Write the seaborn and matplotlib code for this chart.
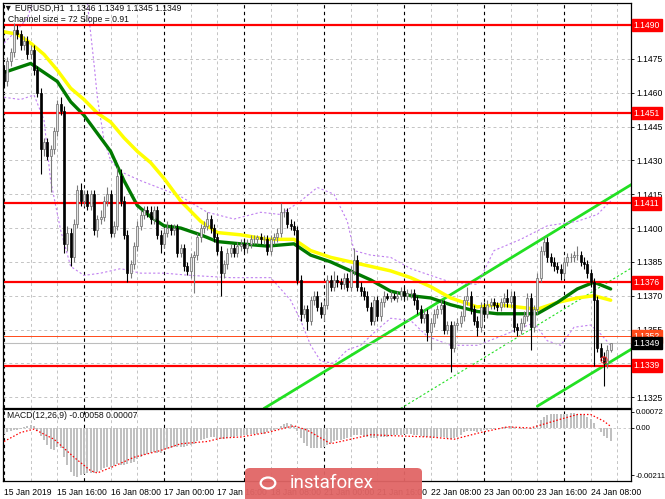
import numpy as np
import matplotlib
matplotlib.use("Agg")
import matplotlib.pyplot as plt
from matplotlib.patches import FancyBboxPatch, Circle
import seaborn as sns

sns.set_theme(style="white")
plt.rcParams["font.family"] = ["Liberation Sans", "DejaVu Sans"]

# EURUSD H1 candles, 15 Jan 00:00 -> 24 Jan 14:00 (open of each bar = previous close)
first_open = 1.1470
closes = [
    1.1465, 1.1474, 1.1478, 1.1488, 1.1486, 1.1481, 1.1483, 1.1477, 1.1479, 1.1470,
    1.1460, 1.1435, 1.1438, 1.1432, 1.1435, 1.1443, 1.1455, 1.1452, 1.1393, 1.1398,
    1.1387, 1.1402, 1.1417, 1.1412, 1.1415, 1.1410, 1.1415, 1.1399, 1.1404, 1.1405,
    1.1412, 1.1415, 1.1398, 1.1401, 1.1423, 1.1412, 1.1397, 1.1380, 1.1384, 1.1392,
    1.1401, 1.1406, 1.1408, 1.1407, 1.1404, 1.1408, 1.1397, 1.1393, 1.1398, 1.1400,
    1.1399, 1.1400, 1.1389, 1.1391, 1.1383, 1.1381, 1.1387, 1.1388, 1.1396, 1.1400,
    1.1401, 1.1404, 1.1400, 1.1396, 1.1390, 1.1380, 1.1384, 1.1389, 1.1391, 1.1389,
    1.1392, 1.1393, 1.1391, 1.1393, 1.1395, 1.1395, 1.1396, 1.1395, 1.1395, 1.1390,
    1.1395, 1.1396, 1.1398, 1.1407, 1.1407, 1.1402, 1.1401, 1.1399, 1.1377, 1.1362,
    1.1364, 1.1359, 1.1368, 1.1370, 1.1365, 1.1362, 1.1366, 1.1377, 1.1374, 1.1377,
    1.1376, 1.1375, 1.1378, 1.1374, 1.1381, 1.1386, 1.1374, 1.1372, 1.1370, 1.1365,
    1.1359, 1.1368, 1.1361, 1.1367, 1.1370, 1.1369, 1.1370, 1.1369, 1.1370, 1.1372,
    1.1370, 1.1371, 1.1371, 1.1368, 1.1364, 1.1360, 1.1362, 1.1354, 1.1358, 1.1362,
    1.1364, 1.1366, 1.1355, 1.1357, 1.1347, 1.1357, 1.1358, 1.1361, 1.1368, 1.1370,
    1.1364, 1.1359, 1.1356, 1.1365, 1.1362, 1.1366, 1.1367, 1.1366, 1.1365, 1.1367,
    1.1369, 1.1367, 1.1370, 1.1356, 1.1355, 1.1358, 1.1361, 1.1369, 1.1356, 1.1364,
    1.1378, 1.1390, 1.1394, 1.1387, 1.1385, 1.1383, 1.1382, 1.1380, 1.1385, 1.1387,
    1.1387, 1.1388, 1.1388, 1.1385, 1.1384, 1.1380, 1.1376, 1.1368, 1.1347, 1.1343,
    1.1340, 1.1346, 1.1349,
]
# wick lengths above / below the body, in pips
wick_up = [
    2, 2, 2, 3, 2, 2, 2, 2, 2, 2,  2, 2, 2, 2, 2, 2, 2, 3, 2, 3,
    2, 2, 2, 3, 2, 2, 2, 2, 2, 3,  2, 3, 2, 2, 4, 3, 2, 2, 2, 2,
    2, 2, 2, 2, 3, 2, 2, 2, 2, 3,  2, 2, 2, 2, 2, 2, 2, 2, 2, 2,
    2, 3, 2, 2, 2, 2, 2, 2, 2, 2,  2, 2, 2, 2, 2, 2, 1, 2, 2, 2,
    2, 2, 2, 4, 2, 2, 2, 2, 2, 2,  2, 2, 2, 2, 2, 2, 2, 2, 2, 4,
    2, 2, 2, 2, 2, 5, 2, 2, 2, 2,  2, 2, 2, 2, 2, 1, 2, 1, 2, 2,
    2, 2, 2, 2, 2, 2, 2, 2, 2, 2,  2, 2, 2, 2, 2, 2, 2, 2, 2, 4,
    2, 2, 2, 2, 2, 2, 2, 2, 1, 2,  2, 4, 2, 2, 2, 2, 2, 2, 2, 2,
    2, 2, 2, 2, 2, 2, 2, 2, 2, 2,  2, 2, 4, 2, 2, 2, 2, 2, 2, 2,
    2, 2, 0,
]
wick_dn = [
    2, 2, 2, 2, 2, 2, 2, 2, 2, 2,  2, 11, 3, 2, 16, 2, 2, 2, 4, 3,
    4, 2, 2, 2, 2, 2, 2, 2, 3, 2,  2, 2, 2, 2, 2, 2, 2, 4, 2, 2,
    2, 2, 2, 2, 2, 2, 2, 4, 2, 2,  2, 2, 2, 2, 2, 2, 3, 16, 2, 2,
    2, 2, 2, 2, 2, 10, 2, 2, 2, 2,  2, 2, 2, 2, 2, 2, 2, 2, 2, 2,
    2, 2, 2, 2, 2, 2, 2, 2, 2, 3,  2, 4, 2, 2, 2, 2, 3, 2, 2, 2,
    2, 2, 2, 2, 2, 2, 2, 2, 2, 2,  2, 2, 2, 2, 2, 1, 2, 1, 2, 2,
    2, 2, 2, 2, 2, 2, 2, 4, 8, 2,  2, 2, 2, 2, 11, 2, 2, 2, 2, 2,
    2, 2, 4, 2, 2, 2, 2, 2, 2, 2,  2, 2, 2, 2, 3, 2, 2, 2, 10, 2,
    2, 2, 2, 2, 2, 2, 2, 3, 2, 2,  2, 2, 2, 2, 2, 2, 2, 29, 2, 2,
    10, 2, 1,
]

# moving averages (sampled)
ma_idx = [0, 4, 8, 12, 16, 20, 24, 28, 32, 36, 40, 44, 48, 53, 59, 64, 71, 79, 87, 92,
          98, 104, 110, 116, 122, 128, 134, 142, 148, 154, 160, 166, 172, 177, 182]
ma_yellow = [1.1487, 1.1486, 1.1482, 1.1477, 1.1470, 1.1462, 1.1457, 1.1451, 1.1447, 1.1440,
             1.1434, 1.1429, 1.1422, 1.1412, 1.1403, 1.1398, 1.1397, 1.1395, 1.1395, 1.1390,
             1.1387, 1.1385, 1.1383, 1.1381, 1.1378, 1.1374, 1.1369, 1.1365, 1.1366, 1.1365,
             1.1364, 1.1367, 1.1369, 1.1370, 1.1368]
ma_green = [1.1469, 1.1471, 1.1473, 1.1469, 1.1465, 1.1456, 1.1450, 1.1442, 1.1434, 1.1421,
            1.1410, 1.1405, 1.1401, 1.1400, 1.1397, 1.1394, 1.1393, 1.1392, 1.1393, 1.1388,
            1.1385, 1.1381, 1.1377, 1.1372, 1.1370, 1.1369, 1.1366, 1.1363, 1.1362, 1.1362,
            1.1362, 1.1367, 1.1373, 1.1376, 1.1373]

# envelope bands (purple dotted)
band_up_idx = [0, 4, 7, 9, 16, 22, 25, 27, 28, 30, 32, 35, 41, 48, 53, 61, 69, 77, 83, 89,
               94, 99, 103, 105, 110, 116, 122, 128, 134, 142, 147, 155, 163, 172, 178, 182]
band_up = [1.1482, 1.1488, 1.1493, 1.1502, 1.1515, 1.1512, 1.1500, 1.1473, 1.1458, 1.1439,
           1.1430, 1.1425, 1.1421, 1.1417, 1.1414, 1.1407, 1.1404, 1.1407, 1.1406, 1.1412,
           1.1418, 1.1415, 1.1403, 1.1390, 1.1388, 1.1387, 1.1382, 1.1379, 1.1376, 1.1375,
           1.1390, 1.1395, 1.1401, 1.1403, 1.1406, 1.1412]
band_dn_idx = [0, 5, 9, 12, 14, 17, 20, 24, 29, 35, 41, 48, 56, 68, 80, 86, 89, 92, 95, 99,
               103, 107, 112, 116, 122, 127, 134, 142, 149, 159, 163, 167, 171, 176, 179, 182]
band_dn = [1.1458, 1.1457, 1.1459, 1.1448, 1.1421, 1.1399, 1.1383, 1.1379, 1.1380, 1.1382,
           1.1380, 1.1380, 1.1379, 1.1378, 1.1378, 1.1368, 1.1359, 1.1348, 1.1341, 1.1340,
           1.1346, 1.1348, 1.1355, 1.1360, 1.1359, 1.1352, 1.1348, 1.1348, 1.1352, 1.1358,
           1.1350, 1.1348, 1.1356, 1.1357, 1.1353, 1.1348]

# regression channel (start, end)
chan_upper_x, chan_upper = [78, 189], [1.1320, 1.1420]
chan_mid_x, chan_mid = [119, 189], [1.1320, 1.1383]
chan_lower_x, chan_lower = [160, 189], [1.1321, 1.1347]

# horizontal levels
red_levels = [1.1490, 1.1451, 1.1411, 1.1376, 1.1339]
ask_level, bid_level = 1.1352, 1.1349

# MACD(12,26,9) histogram in 1e-5 units, one value per bar
macd_hist = [
    -25, -20, -15, -10, -8, -5, 5, 10, 12, 8,
    -15, -35, -55, -75, -95, -100, -85, -90, -130, -165,
    -195, -215, -220, -210, -205, -200, -200, -200, -195, -185,
    -180, -175, -175, -170, -160, -165, -165, -160, -155, -150,
    -140, -130, -120, -115, -110, -105, -110, -110, -100, -95,
    -90, -85, -85, -85, -85, -80, -75, -70, -60, -55,
    -50, -45, -40, -40, -45, -50, -50, -45, -40, -40,
    -35, -35, -30, -30, -28, -25, -25, -22, -25, -20,
    -15, -10, -5, 10, 18, 20, 18, 10, -15, -45,
    -65, -80, -90, -90, -90, -88, -85, -75, -65, -58,
    -55, -52, -50, -45, -38, -30, -30, -32, -35, -38,
    -45, -45, -45, -42, -40, -38, -35, -32, -30, -30,
    -28, -28, -28, -30, -32, -35, -38, -42, -45, -42,
    -40, -40, -42, -45, -50, -45, -40, -30, -20, -15,
    -15, -15, -18, -15, -10, -8, -5, -3, 0, 2,
    5, 5, 8, 3, 0, -3, -3, 0, -5, -3,
    15, 35, 50, 58, 62, 63, 64, 63, 63, 64,
    65, 65, 64, 62, 58, 50, 40, 20, 0, -20,
    -35, -45, -58,
]
sig_idx = [0, 5, 9, 15, 21, 26, 28, 33, 39, 47, 53, 61, 65, 71, 79, 87, 91, 98, 104, 110,
           118, 128, 135, 143, 151, 158, 166, 172, 176, 180, 182]
macd_signal = [-0.00060, -0.00020, -0.00005, -0.00050, -0.00130, -0.00190, -0.00200, -0.00170,
               -0.00130, -0.00100, -0.00070, -0.00060, -0.00045, -0.00040, -0.00020, 0.00010,
               -0.00010, -0.00070, -0.00050, -0.00030, -0.00035, -0.00040, -0.00050, -0.00020,
               0.00005, 0.00000, 0.00035, 0.00060, 0.00060, 0.00030, 0.00007]

time_idx = [0, 16, 32, 48, 64, 80, 96, 112, 128, 144, 160, 176]
time_labels = ["15 Jan 2019", "15 Jan 16:00", "16 Jan 08:00", "17 Jan 00:00", "17 Jan 16:00",
               "18 Jan 08:00", "21 Jan 00:00", "21 Jan 16:00", "22 Jan 08:00", "23 Jan 00:00",
               "23 Jan 16:00", "24 Jan 08:00"]
price_ticks = [1.1325, 1.1340, 1.1355, 1.1370, 1.1385, 1.1400, 1.1415, 1.1430, 1.1445,
               1.1460, 1.1475, 1.1490]

assert len(closes) == len(wick_up) == len(wick_dn) == len(macd_hist) == 183

W, H = 665, 499
fig = plt.figure(figsize=(W / 100, H / 100), dpi=100)
ax = fig.add_axes([3 / W, 1 - 408 / H, 628 / W, 405 / H])
axm = fig.add_axes([3 / W, 1 - 481 / H, 628 / W, 72 / H])

idx = np.arange(len(closes))
c = np.array(closes)
o = np.r_[first_open, c[:-1]]
hi = np.maximum(o, c) + np.array(wick_up) * 1e-4
lo = np.minimum(o, c) - np.array(wick_dn) * 1e-4
bull = c >= o
body = c - o

xlim = (-0.3, 188.1)
for a in (ax, axm):
    a.set_xlim(*xlim)
    for k in range(0, 189, 8):
        dark = k % 24 == 0
        a.axvline(k, color="#000000" if dark else "#c4c4c4", lw=0.8 if dark else 0.7,
                  ls=(0, (3, 3)), zorder=0.5)
    for s in a.spines.values():
        s.set_color("black")
        s.set_linewidth(0.9)

ax.set_ylim(1.13202, 1.14998)
for p in price_ticks:
    ax.axhline(p, color="#c4c4c4", lw=0.7, ls=(0, (3, 3)), zorder=0.5)

# channel
ax.plot(chan_upper_x, chan_upper, color="#22e022", lw=2.0, zorder=1.5)
ax.plot(chan_lower_x, chan_lower, color="#22e022", lw=2.0, zorder=1.5)
ax.plot(chan_mid_x, chan_mid, color="#22e022", lw=0.8, ls=(0, (2, 2)), zorder=1.5)

# bands
ax.plot(band_up_idx, band_up, color="#c080f0", lw=0.8, ls=(0, (2, 2)), zorder=1.6)
ax.plot(band_dn_idx, band_dn, color="#c080f0", lw=0.8, ls=(0, (2, 2)), zorder=1.6)

# moving averages
sns.lineplot(x=ma_idx, y=ma_yellow, ax=ax, color="#ffff00", lw=2.5, zorder=2)
sns.lineplot(x=ma_idx, y=ma_green, ax=ax, color="#007a00", lw=2.4, zorder=2.1)

# horizontal levels
for lv in red_levels:
    ax.axhline(lv, color="#ff0000", lw=1.6, zorder=2.5)
ax.axhline(ask_level, color="#ff4a1a", lw=0.7, zorder=2.5)
ax.axhline(bid_level, color="#bdbdbd", lw=0.8, zorder=2.5)

# candles
ax.vlines(idx, lo, hi, colors=np.where(bull, "#7a7a7a", "#000000"), lw=0.8, zorder=3)
bh = np.where(np.abs(body) < 2e-5, 2e-5, body)
ax.bar(idx[bull], bh[bull], bottom=o[bull], width=0.62, color="#e4e4e4",
       edgecolor="#6a6a6a", linewidth=0.5, zorder=3.2)
ax.bar(idx[~bull], bh[~bull], bottom=o[~bull], width=0.62, color="#000000",
       edgecolor="#000000", linewidth=0.5, zorder=3.2)

ax.text(180, 1.13415, "3", color="#ff2020", fontsize=4.5, ha="center", va="center", zorder=4,
        bbox=dict(boxstyle="circle,pad=0.12", fc="none", ec="#ff2020", lw=0.6))

# tick labels hidden behind the level boxes are left blank
covered = {1.1490, 1.1340}
ax.yaxis.tick_right()
ax.set_yticks(price_ticks)
ax.set_yticklabels(["" if p in covered else f"{p:.4f}" for p in price_ticks])
ax.tick_params(axis="y", labelsize=6.2, length=2.5, width=0.6, pad=1.5, colors="black",
               direction="out")
ax.tick_params(axis="x", bottom=False, labelbottom=False)

def price_box(level, fc, tc="white"):
    ax.annotate(f"{level:.4f}", xy=(1, level), xycoords=("axes fraction", "data"),
                xytext=(2.0, 0), textcoords="offset points", ha="left", va="center",
                fontsize=6.2, color=tc, annotation_clip=False, zorder=10,
                bbox=dict(boxstyle="square,pad=0.22", fc=fc, ec=fc))

for lv in red_levels:
    price_box(lv, "#ff0000")
price_box(ask_level, "#ff4a1a")
price_box(bid_level, "#000000")

# MACD panel
hist = np.array(macd_hist) * 1e-5
axm.set_ylim(-0.002356, 0.000844)
axm.axhline(0, color="#c4c4c4", lw=0.6, ls=(0, (3, 3)), zorder=0.5)
axm.bar(idx, hist, width=0.62, color="#c0c0c0", linewidth=0, zorder=2)
axm.plot(sig_idx, macd_signal, color="#ff0000", lw=0.9, ls=(0, (1.2, 1.6)), zorder=3)
axm.yaxis.tick_right()
axm.set_yticks([0.00072, 0.0, -0.00211])
axm.set_yticklabels(["0.00072", "0.00", "-0.00211"])
axm.tick_params(axis="y", labelsize=5.6, length=2.5, width=0.6, pad=1.2, colors="black")
axm.set_xticks(time_idx)
axm.set_xticklabels(time_labels, ha="left")
axm.tick_params(axis="x", labelsize=6.2, length=3, width=0.6, pad=2, colors="black",
                direction="out")

# header texts
fig.text(4 / W, 1 - 8 / H, "\u25bc EURUSD,H1  1.1346 1.1349 1.1345 1.1349", fontsize=6.2,
         color="#111111", va="center", ha="left")
fig.text(8 / W, 1 - 19 / H, "Channel size = 72 Slope = 0.91", fontsize=6.2,
         color="#111111", va="center", ha="left")
fig.text(7 / W, 1 - 416 / H, "MACD(12,26,9) -0.00058 0.00007", fontsize=6.2,
         color="#111111", va="center", ha="left")

# watermark
fig.patches.append(FancyBboxPatch((245 / W, -0.03), 177 / W, 0.03 + 31 / H,
                                  boxstyle="round,pad=0,rounding_size=0.008",
                                  transform=fig.transFigure, fc="#e16565", ec="none",
                                  alpha=0.95, zorder=20))
fig.patches.append(Circle((268 / W, 1 - 483 / H), 0.011, transform=fig.transFigure,
                          fc="none", ec="white", lw=1.6, zorder=21))
fig.text(290 / W, 1 - 483 / H, "instaforex", fontsize=13.5, color="white", va="center",
         ha="left", family=["Roboto", "DejaVu Sans"], zorder=22)

fig.savefig("out.png", dpi=100)
